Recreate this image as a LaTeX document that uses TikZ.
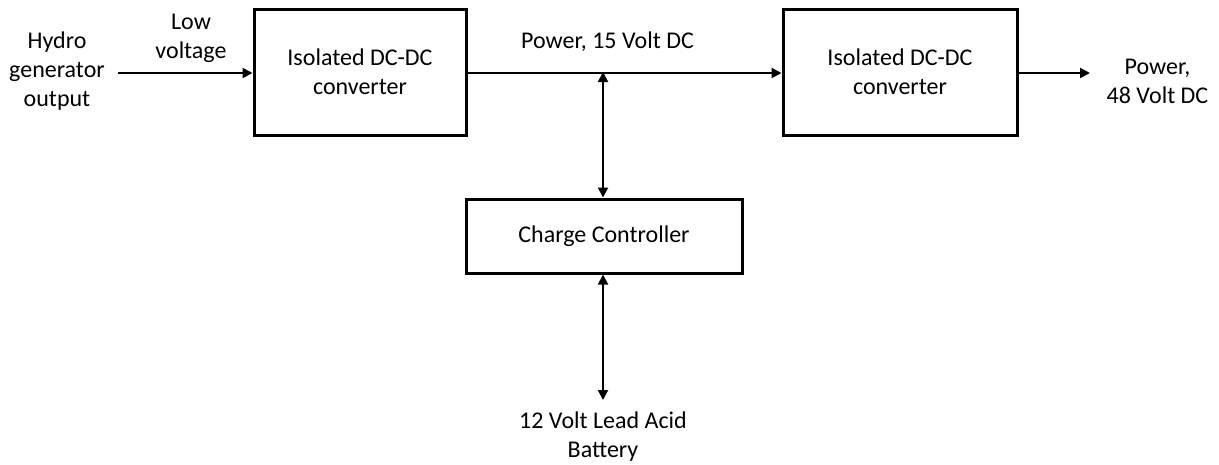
\documentclass[tikz,border=0pt]{standalone}
\usepackage{fontspec}
\setmainfont{Carlito}
\usetikzlibrary{arrows.meta}
\begin{document}
\begin{tikzpicture}[x=1pt,y=-1pt,
  blk/.style={draw,line width=3pt,inner sep=0pt,align=center},
  lbl/.style={align=center,inner sep=0pt,anchor=base},
  conn/.style={line width=2pt,-{Triangle[length=10pt,width=10pt]}},
  biconn/.style={line width=2pt,{Triangle[length=10pt,width=10pt]}-{Triangle[length=10pt,width=10pt]}},
  every node/.style={font=\fontsize{24}{29}\selectfont}]
\useasboundingbox (0,0) rectangle (1219,464);
\node[blk,minimum width=212pt,minimum height=126pt] (c1) at (360,72) {Isolated DC-DC\\converter};
\node[blk,minimum width=234pt,minimum height=126pt] (c2) at (900,72) {Isolated DC-DC\\converter};
\node[blk,minimum width=276pt,minimum height=74pt] (cc) at (604,236) {Charge Controller};
\node[lbl] (hyd) at (57,106) {Hydro\\generator\\output};
\node[lbl] (low) at (191,58) {Low\\voltage};
\node[lbl] (p15) at (607.5,48) {Power, 15 Volt DC};
\node[lbl] (p48) at (1157.5,103) {Power,\\48 Volt DC};
\node[lbl] (bat) at (603,457) {12 Volt Lead Acid\\Battery};
\coordinate (inS) at (118,73);
\coordinate (outE) at (1090,73);
\coordinate (jn) at (603,73);
\coordinate (bt) at (603,400);
\draw[conn] (inS) -- (c1.west |- inS);
\draw[conn] (c1.east |- jn) -- (c2.west |- jn);
\draw[conn] (c2.east |- outE) -- (outE);
\draw[biconn] ([yshift=1pt]jn) -- (jn |- cc.north);
\draw[biconn] (jn |- cc.south) -- (bt);
\end{tikzpicture}
\end{document}
